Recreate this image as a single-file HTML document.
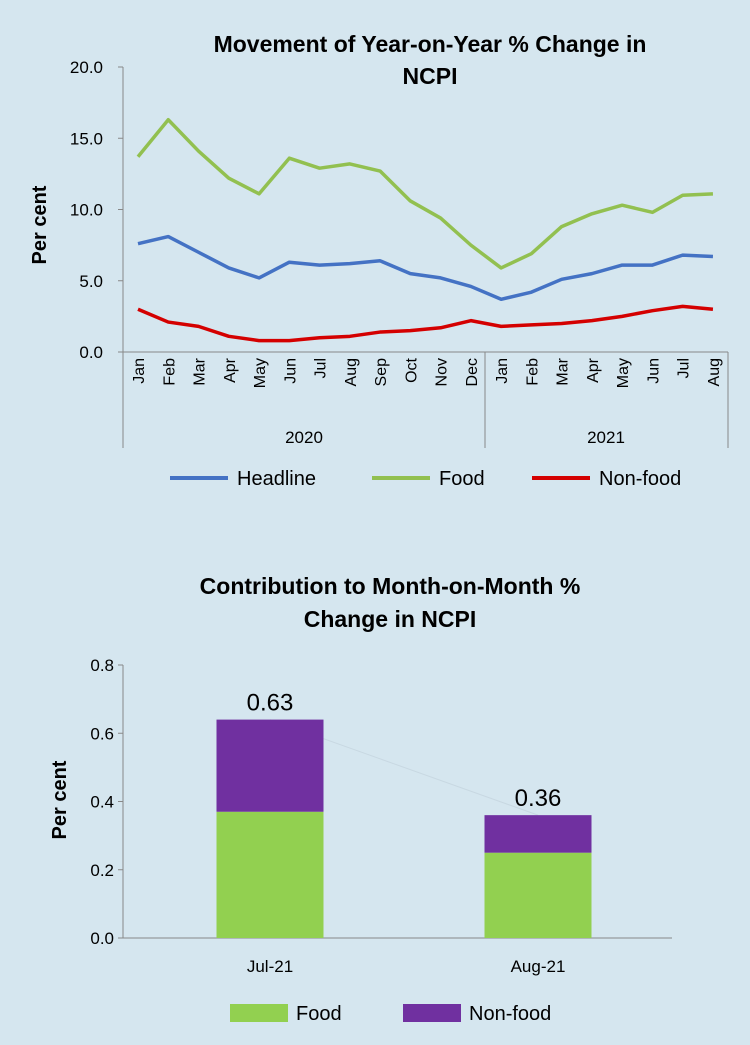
<!DOCTYPE html>
<html><head><meta charset="utf-8"><style>
body{margin:0;background:#d5e6ef;font-family:"Liberation Sans",Arial,sans-serif;}
svg{display:block}
</style></head><body>
<svg width="750" height="1045">
<rect width="750" height="1045" fill="#d5e6ef"/>
<g id="topg">
<text x="430" y="52" text-anchor="middle" font-size="23" font-weight="bold">Movement of Year-on-Year % Change in</text>
<text x="430" y="84" text-anchor="middle" font-size="23" font-weight="bold">NCPI</text>
<text transform="translate(46,225) rotate(-90)" text-anchor="middle" font-size="20" font-weight="bold">Per cent</text>
</g>
<g id="botg">
<text x="390" y="594" text-anchor="middle" font-size="23" font-weight="bold">Contribution to Month-on-Month %</text>
<text x="390" y="627" text-anchor="middle" font-size="23" font-weight="bold">Change in NCPI</text>
<text transform="translate(66,800) rotate(-90)" text-anchor="middle" font-size="20" font-weight="bold">Per cent</text>
</g>
</svg>
<script>
const months=["Jan","Feb","Mar","Apr","May","Jun","Jul","Aug","Sep","Oct","Nov","Dec","Jan","Feb","Mar","Apr","May","Jun","Jul","Aug"];
const headline=[7.6,8.1,7.0,5.9,5.2,6.3,6.1,6.2,6.4,5.5,5.2,4.6,3.7,4.2,5.1,5.5,6.1,6.1,6.8,6.7];
const food=[13.7,16.3,14.1,12.2,11.1,13.6,12.9,13.2,12.7,10.6,9.4,7.5,5.9,6.9,8.8,9.7,10.3,9.8,11.0,11.1];
const nonfood=[3.0,2.1,1.8,1.1,0.8,0.8,1.0,1.1,1.4,1.5,1.7,2.2,1.8,1.9,2.0,2.2,2.5,2.9,3.2,3.0];
const yTicks=[0,5,10,15,20];
const barCats=["Jul-21","Aug-21"];
const barFood=[0.37,0.25];
const barNonfood=[0.27,0.11];
const barTotals=["0.63","0.36"];
const barTicks=[0,0.2,0.4,0.6,0.8];

const NS="http://www.w3.org/2000/svg";
function mk(p,t,a){const e=document.createElementNS(NS,t);for(const k in a)e.setAttribute(k,a[k]);p.appendChild(e);return e;}
const topG=document.getElementById('topg'),botG=document.getElementById('botg');
const yS=v=>352-v*14.25, xS=i=>138+i*30.26;
let e;
e=mk(topG,'line',{x1:123,y1:67,x2:123,y2:448,stroke:'#888'});


e=mk(topG,'line',{x1:123,y1:352,x2:728,y2:352,stroke:'#888'});


yTicks.forEach(v=>{mk(topG,'line',{x1:118,y1:yS(v),x2:123,y2:yS(v),stroke:'#888'});
 e=mk(topG,'text',{x:103,y:yS(v)+6,'text-anchor':'end','font-size':17});e.textContent=v.toFixed(1);
 
 });
months.forEach((m,i)=>{e=mk(topG,'text',{transform:`translate(${xS(i)+6},358) rotate(-90)`,'text-anchor':'end','font-size':16});e.textContent=m;
 
 });
[485,728].forEach(x=>{mk(topG,'line',{x1:x,y1:352,x2:x,y2:448,stroke:'#888'});});
e=mk(topG,'text',{x:304,y:443,'text-anchor':'middle','font-size':17});e.textContent='2020';


e=mk(topG,'text',{x:606,y:443,'text-anchor':'middle','font-size':17});e.textContent='2021';


const series=[[food,'#92c050','food'],[headline,'#4472c4','headline'],[nonfood,'#d40000','nonfood']];
series.forEach(([d,c,n])=>{e=mk(topG,'polyline',{points:d.map((v,i)=>xS(i)+','+yS(v)).join(' '),fill:'none',stroke:c,'stroke-width':3.5,'stroke-linejoin':'round'});
 
 });
[[170,'#4472c4','Headline','legend-headline'],[372,'#92c050','Food','legend-food'],[532,'#d40000','Non-food','legend-nonfood']].forEach(([x,c,t,n])=>{
 mk(topG,'line',{x1:x,y1:478,x2:x+58,y2:478,stroke:c,'stroke-width':4});
 e=mk(topG,'text',{x:x+67,y:485,'font-size':20});e.textContent=t;
 
 });
const bY=v=>938-v*341.25, bX=[270,538], bw=107;
e=mk(botG,'line',{x1:123,y1:665,x2:123,y2:938,stroke:'#888'});


e=mk(botG,'line',{x1:123,y1:938,x2:672,y2:938,stroke:'#888'});


barTicks.forEach(v=>{mk(botG,'line',{x1:118,y1:bY(v),x2:123,y2:bY(v),stroke:'#888'});
 e=mk(botG,'text',{x:114,y:bY(v)+6,'text-anchor':'end','font-size':17});e.textContent=v.toFixed(1);
 
 });
mk(botG,'line',{x1:bX[0],y1:bY(barFood[0]+barNonfood[0]),x2:bX[1],y2:bY(barFood[1]+barNonfood[1]),stroke:'#c8d8e2','stroke-width':1});
barCats.forEach((c,i)=>{const x=bX[i]-bw/2;
 e=mk(botG,'rect',{x:x,y:bY(barFood[i]),width:bw,height:bY(0)-bY(barFood[i]),fill:'#92d050'});
 
 
 e=mk(botG,'rect',{x:x,y:bY(barFood[i]+barNonfood[i]),width:bw,height:bY(0)-bY(barNonfood[i]),fill:'#7030a0'});
 
 
 e=mk(botG,'text',{x:bX[i],y:bY(barFood[i]+barNonfood[i])-9,'text-anchor':'middle','font-size':24});e.textContent=barTotals[i];
 
 
 e=mk(botG,'text',{x:bX[i],y:972,'text-anchor':'middle','font-size':17});e.textContent=c;
 
 });
[[230,'#92d050','Food','legend-bar-food'],[403,'#7030a0','Non-food','legend-bar-nonfood']].forEach(([x,c,t,n])=>{
 mk(botG,'rect',{x:x,y:1004,width:58,height:18,fill:c});
 e=mk(botG,'text',{x:x+66,y:1020,'font-size':20});e.textContent=t;
 
 });
</script>
</body></html>
